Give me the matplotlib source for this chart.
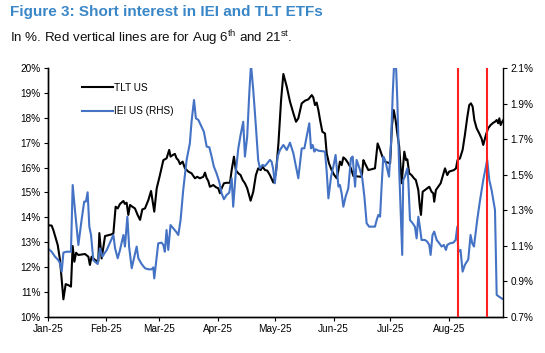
import matplotlib
matplotlib.use("Agg")
import matplotlib.pyplot as plt
import matplotlib.dates as mdates
import matplotlib.ticker as mticker
from matplotlib import font_manager
import pandas as pd

# fonts: narrow Arial look-alike if present
names = {f.name for f in font_manager.fontManager.ttflist}
FONT = "Liberation Sans Narrow" if "Liberation Sans Narrow" in names else "Liberation Sans"
plt.rcParams["font.family"] = [FONT, "DejaVu Sans"]
plt.rcParams["mathtext.fontset"] = "custom"
plt.rcParams["mathtext.rm"] = FONT

# ── data (days after 1 Jan 2025, values in %) ─────────────
tlt_days = [0, 2.1, 3.0, 5.3, 6.5, 8.3, 9.5, 10.9, 12.3, 13.2, 14.1, 15.0, 16.2, 19.7,
            21.5, 22.3, 23.2, 25.0, 26.7, 27.3, 28.5, 30.3, 33.8, 34.7, 35.9, 37.0,
            38.2, 40.0, 40.8, 41.7, 42.6, 43.5, 44.7, 46.1, 47.5, 48.8, 50.0, 51.4,
            53.2, 54.6, 56.3, 57.6, 59.3, 61.1, 62.8, 64.2, 64.9, 66.0, 67.2, 68.1,
            69.0, 69.9, 71.3, 72.5, 74.3, 76.0, 77.8, 79.0, 80.4, 82.2, 83.1, 84.0,
            84.8, 85.7, 87.5, 88.9, 90.1, 91.0, 91.9, 93.1, 94.5, 96.3, 97.2, 98.4,
            99.4, 100.7, 101.9, 103.0, 104.2, 105.4, 107.2, 108.6, 110.0, 111.2,
            112.5, 113.5, 114.8, 116.0, 117.4, 119.2, 120.6, 121.9, 123.3, 124.5,
            126.3, 128.0, 129.8, 131.2, 132.4, 134.2, 136.0, 137.7, 139.5, 140.3,
            141.2, 142.1, 143.0, 143.9, 145.1, 146.5, 147.4, 148.6, 150.0, 151.4,
            152.7, 153.6, 154.4, 155.3, 156.2, 157.4, 158.8, 160.2, 161.5, 165.9,
            166.8, 167.6, 169.4, 172.9, 174.3, 175.6, 176.8, 178.2, 180.9, 181.9,
            182.8, 183.8, 184.7, 185.7, 187.0, 188.4, 189.3, 190.0, 191.0, 192.2,
            193.5, 194.5, 195.8, 196.6, 197.2, 198.1, 199.3, 200.5, 201.6, 202.8,
            203.7, 204.2, 205.1, 206.3, 207.6, 208.6, 209.9, 211.1, 212.1, 214.6,
            215.7, 216.5, 217.8, 219.2, 220.4, 221.7, 222.7, 223.6, 224.5, 225.4,
            226.6, 228.0, 229.2, 230.1, 231.5, 232.7, 234.0, 235.4, 236.3, 237.2,
            238.0, 238.6, 239.3, 240.1, 240.7]
tlt_vals = [13.69, 13.67, 13.49, 12.89, 12.29, 10.71, 11.32, 11.28, 11.22, 12.85, 12.22,
            12.58, 12.49, 12.53, 12.42, 12.09, 12.42, 12.29, 12.22, 13.37, 12.35, 13.25,
            13.32, 13.36, 14.43, 14.36, 14.54, 14.66, 14.54, 14.59, 14.10, 14.50, 14.43,
            14.36, 14.10, 13.90, 14.32, 14.36, 14.70, 15.06, 14.23, 15.17, 15.70, 16.30,
            16.37, 16.71, 16.44, 16.50, 16.55, 16.37, 16.30, 16.14, 16.24, 15.97, 15.84,
            15.77, 15.57, 15.63, 15.57, 15.63, 15.80, 15.57, 15.47, 15.23, 15.30, 15.21,
            15.17, 14.97, 15.17, 15.37, 15.39, 15.39, 15.90, 16.44, 15.90, 15.77, 15.70,
            15.50, 15.37, 15.17, 14.67, 15.03, 15.70, 15.97, 15.90, 16.04, 15.90, 15.88,
            15.70, 15.40, 15.80, 16.97, 18.71, 19.76, 19.25, 18.65, 18.18, 17.84, 17.98,
            18.58, 18.69, 18.74, 18.91, 18.82, 18.51, 18.61, 18.31, 17.91, 17.44, 17.37,
            16.57, 16.17, 15.90, 15.70, 15.57, 15.90, 16.24, 16.10, 16.41, 16.33, 16.17,
            15.97, 15.66, 15.63, 16.30, 16.17, 15.90, 15.97, 16.97, 16.71, 16.44, 16.24,
            16.17, 17.70, 18.31, 17.91, 17.37, 16.84, 15.37, 16.64, 16.30, 16.33, 15.77,
            15.70, 15.57, 15.50, 15.10, 14.43, 14.10, 15.03, 15.10, 15.17, 15.23, 15.03,
            14.97, 14.63, 15.10, 15.23, 15.37, 15.63, 15.97, 15.70, 15.84, 15.90, 15.97,
            16.30, 16.37, 16.71, 17.31, 18.04, 18.51, 18.58, 18.45, 17.91, 17.58, 17.37,
            17.17, 16.91, 17.31, 17.58, 17.71, 17.80, 17.84, 17.91, 17.78, 17.98, 17.71,
            17.84, 17.91]

iei_days = [0, 2.1, 3.8, 5.6, 6.5, 7.4, 8.3, 10.0, 12.3, 13.2, 14.4, 16.2, 17.9, 19.3,
            20.2, 21.1, 22.0, 22.9, 24.1, 25.0, 26.4, 27.6, 28.9, 31.2, 34.7, 35.6, 37.0,
            38.2, 40.0, 40.8, 42.1, 43.0, 44.4, 45.8, 47.0, 47.9, 49.6, 51.4, 53.2, 54.9,
            55.8, 56.3, 57.6, 58.4, 60.2, 61.1, 61.9, 62.8, 63.7, 64.9, 66.3, 67.8, 69.0,
            70.2, 71.6, 73.4, 75.1, 76.0, 77.3, 78.3, 79.6, 81.3, 82.5, 84.0, 85.4, 86.6,
            87.8, 89.2, 90.6, 91.9, 93.1, 94.5, 95.9, 97.2, 98.0, 99.4, 100.7, 101.9,
            103.3, 104.2, 105.4, 106.5, 107.4, 108.6, 110.0, 111.2, 112.1, 113.5, 114.8,
            116.0, 117.4, 118.3, 119.2, 120.0, 121.5, 122.7, 124.5, 126.3, 128.0, 129.8,
            131.2, 132.4, 134.2, 135.6, 136.8, 138.2, 139.1, 140.0, 140.9, 141.6, 143.0,
            146.5, 147.4, 148.3, 149.7, 150.9, 152.1, 153.6, 154.4, 155.3, 156.2, 157.4,
            158.8, 160.2, 161.1, 162.4, 163.2, 165.0, 166.2, 167.3, 168.5, 169.8, 172.9,
            173.8, 174.7, 175.6, 176.4, 177.3, 178.2, 179.1, 180.3, 181.4, 182.3, 183.0,
            184.0, 184.7, 185.7, 187.3, 187.8, 188.7, 190.0, 190.5, 191.4, 192.8, 194.0,
            194.9, 195.8, 196.6, 197.5, 199.3, 200.5, 201.6, 202.3, 203.3, 204.2, 205.5,
            206.9, 208.1, 209.3, 210.4, 211.1, 212.5, 214.3, 215.5, 216.4, 216.9, 218.1,
            219.2, 220.4, 222.2, 223.4, 224.3, 225.2, 226.9, 228.3, 230.1, 231.3, 232.2,
            233.3, 234.5, 236.3, 237.2, 238.9, 240.7]
iei_vals = [1.086, 1.067, 1.040, 1.020, 1.002, 0.955, 1.062, 1.067, 1.067, 1.442, 1.302,
            1.105, 1.245, 1.349, 1.349, 1.401, 1.208, 1.161, 1.020, 1.011, 0.998, 1.086,
            1.040, 1.077, 1.161, 1.086, 1.030, 1.077, 1.161, 1.096, 1.264, 1.096, 0.974,
            1.040, 1.096, 1.030, 0.998, 0.974, 0.968, 0.968, 0.979, 0.917, 1.040, 1.114,
            1.118, 1.105, 1.067, 1.189, 1.077, 1.217, 1.199, 1.180, 1.161, 1.245, 1.414,
            1.583, 1.676, 1.798, 1.920, 1.817, 1.808, 1.770, 1.742, 1.658, 1.654, 1.602,
            1.545, 1.508, 1.461, 1.395, 1.362, 1.386, 1.399, 1.480, 1.320, 1.517, 1.648,
            1.723, 1.798, 1.602, 1.714, 1.958, 2.120, 1.976, 1.770, 1.583, 1.536, 1.555,
            1.549, 1.564, 1.583, 1.573, 1.527, 1.452, 1.602, 1.639, 1.667, 1.639, 1.680,
            1.620, 1.545, 1.480, 1.648, 1.648, 1.714, 1.789, 1.648, 1.667, 1.630, 1.643,
            1.635, 1.630, 1.517, 1.367, 1.489, 1.545, 1.611, 1.433, 1.442, 1.395, 1.320,
            1.377, 1.423, 1.592, 1.602, 1.433, 1.583, 1.527, 1.480, 1.377, 1.227, 1.208,
            1.208, 1.245, 1.274, 1.264, 1.433, 1.602, 1.583, 1.545, 1.489, 1.680, 1.960,
            2.120, 2.120, 1.920, 1.527, 1.049, 1.470, 1.489, 1.536, 1.470, 1.245, 1.227,
            1.208, 1.142, 1.264, 1.208, 1.133, 1.133, 1.124, 1.105, 1.049, 1.161, 1.180,
            1.133, 1.114, 1.096, 1.105, 1.077, 1.105, 1.114, 1.118, 1.133, 1.208, 1.067,
            1.077, 0.955, 0.993, 1.024, 1.161, 1.114, 1.096, 1.245, 1.349, 1.470, 1.536,
            1.583, 1.470, 1.414, 1.302, 0.824, 0.811, 0.799]

event_dates = ["2025-08-06", "2025-08-21"]

start = pd.Timestamp("2025-01-01")
tlt_x = start + pd.to_timedelta(tlt_days, unit="D")
iei_x = start + pd.to_timedelta(iei_days, unit="D")

# ── figure ────────────────────────────────────────────────
fig = plt.figure(figsize=(5.45, 3.53), dpi=100)
ax = fig.add_axes([0.0875, 0.102, 0.836, 0.7054])
ax2 = ax.twinx()

BLUE = "#4472C4"
l1, = ax.plot(tlt_x, tlt_vals, color="black", lw=1.5, label="TLT US")
l2, = ax2.plot(iei_x, iei_vals, color=BLUE, lw=1.5, label="IEI US (RHS)")
for d in event_dates:
    ax2.axvline(pd.Timestamp(d), color="#FF2020", lw=1.5, zorder=5)

ax.set_xlim(start, start + pd.Timedelta(days=240.7))
ax.set_ylim(10, 20)
ax2.set_ylim(0.7, 2.1)
ax.yaxis.set_major_locator(mticker.MultipleLocator(1))
ax.yaxis.set_major_formatter(mticker.FuncFormatter(lambda v, _: f"{v:.0f}%"))
ax2.yaxis.set_major_locator(mticker.FixedLocator([0.7, 0.9, 1.1, 1.3, 1.5, 1.7, 1.9, 2.1]))
ax2.yaxis.set_major_formatter(mticker.FuncFormatter(lambda v, _: f"{v:.1f}%"))
ax.xaxis.set_major_locator(mdates.MonthLocator())
ax.xaxis.set_major_formatter(mdates.DateFormatter("%b-%y"))

for a in (ax, ax2):
    a.spines["top"].set_visible(False)
    for s in ("left", "right", "bottom"):
        a.spines[s].set_linewidth(1.0)
    a.tick_params(labelsize=7.2, length=3, width=0.8, direction="out", pad=2)
ax.spines["right"].set_visible(False)

ax.legend(handles=[l1, l2], loc="upper left", bbox_to_anchor=(0.075, 0.94),
          frameon=False, fontsize=7.2, handlelength=3.1, handletextpad=0.15,
          labelspacing=1.35, borderpad=0, borderaxespad=0)

fig.text(10 / 545, 1 - 12 / 353, "Figure 3: Short interest in IEI and TLT ETFs",
         fontsize=11.0, fontweight="bold", color="#3A87C8", ha="left", va="center")
fig.text(10 / 545, 1 - 38 / 353,
         r"In %. Red vertical lines are for Aug 6$^{\mathrm{th}}$ and 21$^{\mathrm{st}}$.",
         fontsize=9.6, color="#111111", ha="left", va="center")

fig.savefig("out.png", dpi=100)
